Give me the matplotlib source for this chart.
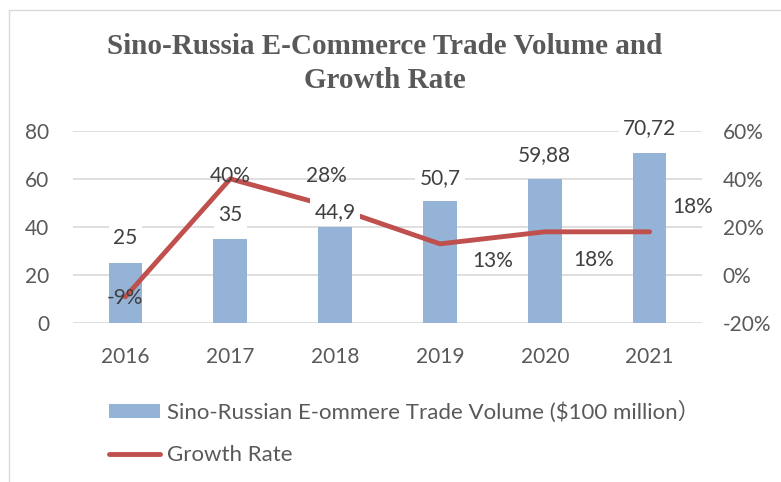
import matplotlib
matplotlib.use("Agg")
import matplotlib.pyplot as plt
from matplotlib.patches import Rectangle

plt.rcParams['font.family'] = ['Lato', 'Noto Sans CJK SC', 'DejaVu Sans']

years = ["2016", "2017", "2018", "2019", "2020", "2021"]
volume = [25, 35, 40, 50.7, 60, 70.72]
volume_labels = ["25", "35", "44,9", "50,7", "59,88", "70,72"]
growth = [-9, 40, 28, 13, 18, 18]
growth_labels = ["-9%", "40%", "28%", "13%", "18%", "18%"]

grey = "#595959"
bar_c = "#95B3D7"
line_c = "#C0504D"

fig = plt.figure(figsize=(7.81, 4.82), dpi=100)
fig.patches.append(Rectangle((9 / 781, -0.1), 1.1, 1 - 10 / 482 + 0.1, transform=fig.transFigure,
                             fill=False, edgecolor="#d9d9d9", linewidth=1))

ax = fig.add_axes([73 / 781, 1 - 323.3 / 482, (702 - 73) / 781, (323.3 - 130.7) / 482])
ax2 = ax.twinx()

x = list(range(len(years)))
bars = ax.bar(x, volume, width=0.32, color=bar_c, zorder=2,
              label="Sino-Russian E-ommere Trade Volume (\\$100 million）")
ax.set_xlim(-0.5, 5.5)
ax.set_ylim(0, 80)
ax.set_yticks([0, 20, 40, 60, 80])
ax.yaxis.grid(True, color="#d9d9d9", linewidth=1.2, zorder=0)
ax.set_axisbelow(True)
ax.set_xticks(x)
ax.set_xticklabels(years)

line, = ax2.plot(x, growth, color=line_c, linewidth=3.5, solid_capstyle="round",
                 label="Growth Rate", zorder=3)
ax2.set_ylim(-20, 60)
ax2.set_yticks([-20, 0, 20, 40, 60])
ax2.set_yticklabels(["-20%", "0%", "20%", "40%", "60%"])

for a in (ax, ax2):
    for s in a.spines.values():
        s.set_visible(False)
    a.tick_params(length=0, colors=grey, labelsize=15)
ax.tick_params(axis="y", pad=17)
ax.tick_params(axis="x", pad=17)
ax2.tick_params(axis="y", pad=15)

# percentage labels (offsets in points)
g_off = [(0, -1), (0, 2), (-6, 23), (38, -12), (35, -20), (31, 18)]
for i, (lab, off) in enumerate(zip(growth_labels, g_off)):
    ax2.annotate(lab, (x[i], growth[i]), xytext=off, textcoords="offset points",
                 ha="center", va="center", fontsize=15, color="#404040", zorder=5)

# volume labels with white boxes
v_off = [18, 17, 11, 17, 17, 18]
for i, (lab, off) in enumerate(zip(volume_labels, v_off)):
    ax2.annotate(lab, (x[i], ax2.transData.inverted().transform(ax.transData.transform((x[i], volume[i])))[1]),
                 xytext=(0, off), textcoords="offset points", ha="center", va="center",
                 fontsize=15, color="#404040", zorder=4,
                 bbox=dict(boxstyle="square,pad=0.2", fc="white", ec="none"))

fig.text(385 / 781, 1 - 47 / 482, "Sino-Russia E-Commerce Trade Volume and",
         ha="center", va="center", fontsize=21, fontweight="bold", color=grey,
         family="Liberation Serif")
fig.text(385 / 781, 1 - 80 / 482, "Growth Rate",
         ha="center", va="center", fontsize=21, fontweight="bold", color=grey,
         family="Liberation Serif")

leg = fig.legend([bars, line], [bars.get_label(), line.get_label()],
                 loc="upper left", bbox_to_anchor=(100 / 781, 1 - 392 / 482),
                 frameon=False, fontsize=16, handlelength=2.3, handleheight=0.57,
                 labelspacing=1.0, handletextpad=0.3, borderaxespad=0)
for t in leg.get_texts():
    t.set_color(grey)

fig.savefig("out.png", dpi=100)
